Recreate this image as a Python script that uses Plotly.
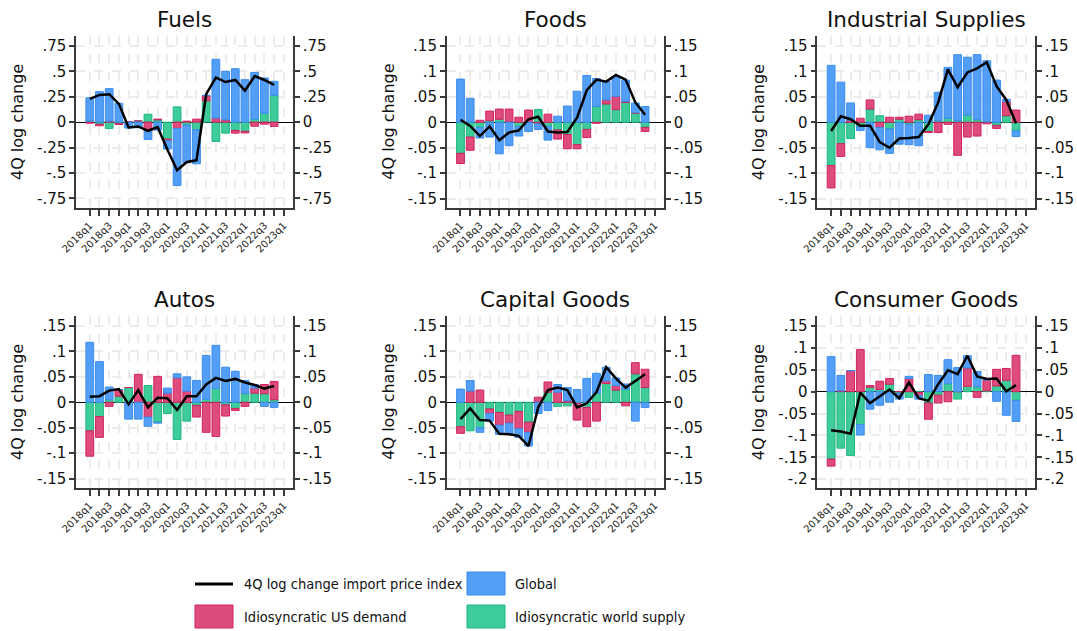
import plotly.graph_objects as go

W, H = 1077, 631

# Quarter labels for the x axis (bars run 2018q1-2022q4, axis extends to 2023q1)
quarters = ["2018q1", "2018q2", "2018q3", "2018q4", "2019q1", "2019q2", "2019q3", "2019q4",
            "2020q1", "2020q2", "2020q3", "2020q4", "2021q1", "2021q2", "2021q3", "2021q4",
            "2022q1", "2022q2", "2022q3", "2022q4", "2023q1"]
bar_quarters = quarters[:20]

titles = ["Fuels", "Foods", "Industrial Supplies", "Autos", "Capital Goods", "Consumer Goods"]

# ---- Fuels ----
fuels_global = [0.228, 0.30, 0.32, 0.186, -0.058, -0.055, -0.08, -0.078, -0.082, -0.562,
                -0.37, -0.335, 0.005, 0.578, 0.478, 0.526, 0.418, 0.46, 0.347, 0.137]
fuels_us_demand = [-0.01, -0.015, 0.01, -0.008, 0.005, 0.0, -0.09, 0.008, -0.016, -0.062,
                   0.01, 0.03, 0.05, 0.04, 0.022, -0.026, -0.016, -0.04, -0.02, -0.042]
fuels_world_supply = [0.012, -0.02, -0.062, -0.015, 0.0, 0.012, 0.078, 0.022, -0.167, 0.15,
                      -0.03, -0.075, 0.21, -0.19, -0.108, -0.082, -0.09, 0.03, 0.088, 0.265]
fuels_total = [0.229, 0.268, 0.275, 0.18, -0.052, -0.042, -0.085, -0.049, -0.27, -0.474,
               -0.392, -0.376, 0.275, 0.438, 0.395, 0.415, 0.31, 0.454, 0.415, 0.366]

# ---- Foods ----
foods_global = [0.085, 0.047, -0.021, -0.029, -0.062, -0.046, -0.019, -0.018, -0.011, -0.027,
                0.012, 0.032, 0.061, 0.092, 0.055, 0.036, 0.039, 0.042, 0.019, 0.031]
foods_us_demand = [-0.02, -0.026, 0.004, 0.019, 0.02, 0.025, 0.01, 0.024, -0.003, 0.016,
                   -0.018, -0.028, -0.008, -0.016, -0.002, 0.008, 0.026, 0.002, 0.001, -0.008]
foods_world_supply = [-0.061, -0.029, -0.01, 0.003, 0.006, 0.001, -0.008, 0.0, 0.025, -0.008,
                      -0.015, -0.024, -0.044, -0.014, 0.031, 0.036, 0.025, 0.039, 0.018, -0.01]
foods_total = [0.005, -0.007, -0.027, -0.008, -0.035, -0.02, -0.016, 0.006, 0.011, -0.018,
               -0.02, -0.019, 0.009, 0.063, 0.084, 0.08, 0.093, 0.084, 0.039, 0.015]

# ---- Industrial Supplies ----
indus_global = [0.112, 0.079, 0.034, -0.007, -0.05, -0.044, -0.048, -0.043, -0.04, -0.046,
                0.014, 0.056, 0.1, 0.13, 0.114, 0.128, 0.12, 0.083, 0.004, -0.011]
indus_us_demand = [-0.044, -0.025, 0.004, 0.008, 0.018, -0.01, 0.01, 0.004, 0.012, 0.011,
                   -0.002, -0.02, -0.004, -0.065, -0.029, -0.027, -0.003, -0.006, 0.028, 0.024]
indus_world_supply = [-0.085, -0.042, -0.032, -0.009, 0.026, 0.013, -0.013, 0.006, -0.004, 0.005,
                      -0.018, 0.003, 0.008, 0.003, 0.014, 0.005, 0.001, -0.006, 0.013, -0.017]
indus_total = [-0.017, 0.012, 0.006, -0.007, -0.007, -0.039, -0.05, -0.032, -0.031, -0.029,
               -0.004, 0.039, 0.104, 0.069, 0.098, 0.106, 0.118, 0.071, 0.044, -0.002]

# ---- Autos ----
autos_global = [0.118, 0.080, 0.025, 0.0, -0.033, -0.033, -0.018, -0.002, 0.01, 0.008,
                0.028, 0.043, 0.086, 0.085, 0.069, 0.061, 0.026, 0.007, -0.008, -0.01]
autos_us_demand = [-0.05, -0.041, -0.008, 0.013, 0.0, 0.055, -0.029, 0.051, 0.018, 0.048,
                   0.022, -0.023, -0.059, -0.067, -0.022, -0.004, -0.008, 0.01, 0.018, 0.036]
autos_world_supply = [-0.056, -0.028, 0.005, 0.012, 0.029, 0.0, 0.033, -0.039, -0.022, -0.073,
                      -0.037, -0.006, 0.006, 0.027, -0.005, -0.012, 0.017, 0.018, 0.017, 0.005]
autos_total = [0.011, 0.012, 0.023, 0.026, -0.004, 0.024, -0.01, 0.009, 0.008, -0.015,
               0.012, 0.012, 0.035, 0.048, 0.042, 0.046, 0.039, 0.034, 0.027, 0.032]

# ---- Capital Goods ----
capital_global = [0.026, 0.021, -0.009, -0.015, -0.018, -0.022, -0.017, -0.027, -0.022, -0.016,
                  0.015, 0.026, 0.025, 0.047, 0.039, 0.027, 0.015, 0.01, -0.037, -0.01]
capital_us_demand = [-0.013, 0.022, 0.024, -0.009, -0.025, -0.016, -0.034, -0.02, 0.01, 0.02,
                     0.02, 0.003, -0.033, -0.038, -0.037, 0.005, 0.009, -0.007, 0.022, 0.036]
capital_world_supply = [-0.048, -0.056, -0.05, -0.013, -0.02, -0.025, -0.018, -0.039, 0.0, 0.02,
                        -0.008, -0.007, -0.002, -0.01, 0.018, 0.037, 0.024, 0.026, 0.056, 0.029]
capital_total = [-0.033, -0.012, -0.035, -0.036, -0.062, -0.063, -0.066, -0.086, -0.01, 0.024,
                 0.029, 0.024, -0.01, -0.002, 0.02, 0.069, 0.047, 0.029, 0.042, 0.055]

# ---- Consumer Goods ----
consumer_global = [0.08, 0.035, 0.0, -0.024, -0.04, -0.031, -0.024, -0.013, 0.005, -0.008,
                   0.039, 0.037, 0.055, 0.055, 0.028, 0.035, 0.0, -0.022, -0.054, -0.048]
consumer_us_demand = [-0.016, 0.002, 0.048, 0.096, 0.004, 0.019, 0.013, 0.0, 0.03, -0.007,
                      -0.037, -0.018, -0.023, 0.0, 0.042, -0.013, 0.025, 0.038, 0.027, 0.083]
consumer_world_supply = [-0.154, -0.129, -0.146, -0.075, 0.01, 0.005, 0.017, -0.004, -0.013, -0.002,
                         -0.026, -0.008, 0.018, -0.017, 0.012, 0.011, 0.002, 0.013, 0.026, -0.02]
consumer_total = [-0.088, -0.091, -0.096, -0.002, -0.026, -0.01, 0.005, -0.015, 0.021, -0.015,
                  -0.021, 0.017, 0.049, 0.04, 0.082, 0.035, 0.029, 0.03, 0.001, 0.015]

# Y tick values / labels
fuels_ticks = [-0.75, -0.5, -0.25, 0, 0.25, 0.5, 0.75]
fuels_ticklabels = ["-.75", "-.5", "-.25", "0", ".25", ".5", ".75"]
std_ticks = [-0.15, -0.1, -0.05, 0, 0.05, 0.1, 0.15]
std_ticklabels = ["-.15", "-.1", "-.05", "0", ".05", ".1", ".15"]
cons_ticks = [-0.2, -0.15, -0.1, -0.05, 0, 0.05, 0.1, 0.15]
cons_ticklabels = ["-.2", "-.15", "-.1", "-.05", "0", ".05", ".1", ".15"]

series_names = ["4Q log change import price index", "Global",
                "Idiosyncratic US demand", "Idiosyncratic world supply"]

panels = [
    (fuels_global, fuels_us_demand, fuels_world_supply, fuels_total, fuels_ticks, fuels_ticklabels, [-0.845, 0.848]),
    (foods_global, foods_us_demand, foods_world_supply, foods_total, std_ticks, std_ticklabels, [-0.1685, 0.1697]),
    (indus_global, indus_us_demand, indus_world_supply, indus_total, std_ticks, std_ticklabels, [-0.1685, 0.1697]),
    (autos_global, autos_us_demand, autos_world_supply, autos_total, std_ticks, std_ticklabels, [-0.1685, 0.1697]),
    (capital_global, capital_us_demand, capital_world_supply, capital_total, std_ticks, std_ticklabels, [-0.1685, 0.1697]),
    (consumer_global, consumer_us_demand, consumer_world_supply, consumer_total, cons_ticks, cons_ticklabels, [-0.22, 0.1728]),
]

BLUE_FILL, BLUE_LINE = "rgba(70,152,247,0.93)", "#3A8CEF"
RED_FILL, RED_LINE = "rgba(220,62,116,0.93)", "#D2205F"
GREEN_FILL, GREEN_LINE = "rgba(46,200,146,0.93)", "#1FB67E"
AXIS_COLOR = "#3a3a3a"
GRID_COLOR = "#ECECEC"
FONT = "DejaVu Sans"

# plot-area placement in pixels (left, right) / (top, bottom)
col_px = [(76, 293), (446.7, 664), (817.3, 1035)]
row_px = [(36, 208), (316, 488)]

fig = go.Figure()
layout = {}
annotations = []
xpos = list(range(len(bar_quarters)))

for k, (g, d, s, tot, yt, ytl, yrange) in enumerate(panels):
    n = k + 1
    r, c = divmod(k, 3)
    xl, xr = col_px[c]
    yt_px, yb_px = row_px[r]
    xa = "x" if n == 1 else f"x{n}"
    ya = "y" if n == 1 else f"y{n}"
    yright = f"y{n + 6}"

    # stacking order from zero outward: world supply, US demand, global
    for vals, fill, line, nm in [(s, GREEN_FILL, GREEN_LINE, series_names[3]),
                                 (d, RED_FILL, RED_LINE, series_names[2]),
                                 (g, BLUE_FILL, BLUE_LINE, series_names[1])]:
        fig.add_trace(go.Bar(x=xpos, y=vals, width=0.8, name=nm,
                             marker=dict(color=fill, line=dict(color=line, width=1)),
                             xaxis=xa, yaxis=ya, showlegend=False))
    fig.add_trace(go.Scatter(x=xpos, y=tot, mode="lines", name=series_names[0],
                             line=dict(color="black", width=2.5),
                             xaxis=xa, yaxis=ya, showlegend=False))
    # mirror axis on the right carries the same scale
    fig.add_trace(go.Scatter(x=xpos, y=tot, mode="lines", opacity=0, hoverinfo="skip",
                             xaxis=xa, yaxis=yright, showlegend=False))

    xkey = "xaxis" if n == 1 else f"xaxis{n}"
    ykey = "yaxis" if n == 1 else f"yaxis{n}"
    layout[xkey] = dict(
        domain=[xl / W, xr / W], anchor=ya, range=[-1.42, 20.95],
        tickvals=list(range(len(quarters))),
        ticktext=[q if i % 2 == 0 else "" for i, q in enumerate(quarters)],
        tickangle=-45, tickfont=dict(size=10, color="#222", family=FONT),
        ticks="outside", ticklen=6, tickcolor=AXIS_COLOR, tickwidth=1.5,
        showline=True, linecolor=AXIS_COLOR, linewidth=1.5,
        showgrid=True, gridcolor=GRID_COLOR, gridwidth=1.5, griddash="dash",
        zeroline=False, automargin=False,
    )
    common_y = dict(range=yrange, tickvals=yt, ticktext=ytl,
                    tickfont=dict(size=15, color="#111", family=FONT),
                    ticks="outside", ticklen=5, tickcolor=AXIS_COLOR, tickwidth=1.5,
                    showline=True, linecolor=AXIS_COLOR, linewidth=1.5, automargin=False)
    layout[ykey] = dict(domain=[1 - yb_px / H, 1 - yt_px / H], anchor=xa,
                        showgrid=True, gridcolor=GRID_COLOR, gridwidth=1.5, griddash="dash",
                        zeroline=True, zerolinecolor="black", zerolinewidth=1, **common_y)
    layout[f"yaxis{n + 6}"] = dict(overlaying=ya, side="right", anchor=xa,
                                   showgrid=False, zeroline=False, **common_y)

    annotations.append(dict(text=titles[k], x=(xl + xr) / 2 / W, y=1 - (yt_px - 17) / H,
                            xref="paper", yref="paper", showarrow=False,
                            xanchor="center", yanchor="middle",
                            font=dict(size=21.5, color="#111", family=FONT)))
    annotations.append(dict(text="4Q log change", x=(xl - 59) / W, y=1 - (yt_px + yb_px) / 2 / H,
                            xref="paper", yref="paper", showarrow=False, textangle=-90,
                            xanchor="center", yanchor="middle",
                            font=dict(size=16, color="#111", family=FONT)))

# Legend block below the panels
def px_x(v):
    return v / W

def px_y(v):
    return 1 - v / H

LEG_FONT = dict(size=14.5, color="#111", family="DejaVu Sans Condensed, DejaVu Sans")
shapes = [
    dict(type="line", xref="paper", yref="paper", x0=px_x(195), x1=px_x(233),
         y0=px_y(584), y1=px_y(584), line=dict(color="black", width=3)),
    dict(type="rect", xref="paper", yref="paper", x0=px_x(467), x1=px_x(505),
         y0=px_y(595), y1=px_y(572), fillcolor=BLUE_FILL, line=dict(color=BLUE_LINE, width=1)),
    dict(type="rect", xref="paper", yref="paper", x0=px_x(195), x1=px_x(233),
         y0=px_y(628), y1=px_y(605), fillcolor=RED_FILL, line=dict(color=RED_LINE, width=1)),
    dict(type="rect", xref="paper", yref="paper", x0=px_x(467), x1=px_x(505),
         y0=px_y(628), y1=px_y(605), fillcolor=GREEN_FILL, line=dict(color=GREEN_LINE, width=1)),
]
for txt, lx, ly in [(series_names[0], 242, 584), (series_names[1], 513, 584),
                    (series_names[2], 242, 616.5), (series_names[3], 513, 616.5)]:
    annotations.append(dict(text=txt, x=px_x(lx), y=px_y(ly), xref="paper", yref="paper",
                            showarrow=False, xanchor="left", yanchor="middle", font=LEG_FONT))

fig.update_layout(
    width=W, height=H, margin=dict(l=0, r=0, t=0, b=0, autoexpand=False),
    paper_bgcolor="white", plot_bgcolor="white",
    barmode="relative", showlegend=False,
    font=dict(family=FONT, color="#111"),
    annotations=annotations, shapes=shapes, **layout,
)

fig.write_html("out.html")
